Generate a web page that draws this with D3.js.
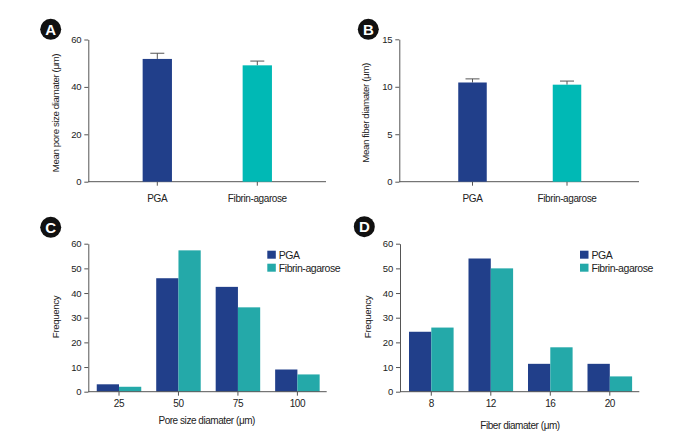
<!DOCTYPE html>
<html><head><meta charset="utf-8">
<script src="https://cdn.jsdelivr.net/npm/d3@7"></script>
<style>
body{margin:0;background:#fff;}
text{font-family:"Liberation Sans",Arial,sans-serif;fill:#222;}
</style></head>
<body><svg id="c" width="690" height="435"></svg>
<script>
// ---- data ----
const groups = ["PGA", "Fibrin-agarose"];
const poreMean = [51.8, 49.1];
const poreErr = [2.4, 1.8];
const fiberMean = [10.45, 10.22];
const fiberErr = [0.38, 0.38];
const poreBins = ["25", "50", "75", "100"];
const porePGA = [3, 46, 42.5, 9];
const poreFib = [2, 57.3, 34.2, 7];
const fiberBins = ["8", "12", "16", "20"];
const fiberPGA = [24.3, 54, 11.3, 11.3];
const fiberFib = [26, 50, 18, 6.2];
const ticksA = [0, 20, 40, 60];
const ticksB = [0, 5, 10, 15];
const ticksCD = [0, 10, 20, 30, 40, 50, 60];

const cBlue = "#213f8a", cTealA = "#00b9b5", cTeal = "#24a9a9";
const svg = d3.select("#c");

function bandFor(domain, c1, cN, w) {
  const n = domain.length;
  const step = (cN - c1) / (n - 1);
  const p = 1 - w / step;
  return d3.scaleBand().domain(domain)
    .range([c1 - step / 2, cN + step / 2]).paddingInner(p).paddingOuter(p / 2);
}

function axes(g, x, y, x0, x1, yVals, padX, xFont) {
  const ya = g.append("g").attr("transform", `translate(${x0},0)`)
    .call(d3.axisLeft(y).tickValues(yVals).tickSize(4).tickSizeOuter(0).tickPadding(3));
  const xa = g.append("g").attr("transform", `translate(0,${y(0)})`)
    .call(d3.axisBottom(x).tickSize(4).tickSizeOuter(0).tickPadding(padX));
  xa.select(".domain").remove();
  g.append("line").attr("x1", x0).attr("x2", x1).attr("y1", y(0)).attr("y2", y(0))
    .attr("stroke", "#555").attr("stroke-width", 1);
  [ya, xa].forEach(a => {
    a.selectAll("line").attr("stroke", "#555");
    a.selectAll(".domain").attr("stroke", "#555");
    a.selectAll("text").style("font-size", "9.5px").style("letter-spacing", "-0.2px").attr("fill", "#222");
  });
  xa.selectAll("text").style("font-size", xFont).style("letter-spacing", "-0.4px");
}

function badge(cx, cy, letter) {
  svg.append("circle").attr("cx", cx).attr("cy", cy).attr("r", 10.5).attr("fill", "#111");
  svg.append("text").attr("x", cx).attr("y", cy + 5.3).attr("text-anchor", "middle")
    .style("font-weight", "bold").style("font-size", "15px").style("fill", "#fff").text(letter);
}

function ylabel(x, y, t) {
  svg.append("text").attr("transform", `translate(${x},${y}) rotate(-90)`)
    .attr("text-anchor", "middle").style("font-size", "9.8px").style("letter-spacing", "-0.45px").text(t);
}

function meanPanel(x0, x1, y0, yTop, max, ticks, means, errs, c1, c2, w, title, tx) {
  const g = svg.append("g");
  const y = d3.scaleLinear().domain([0, max]).range([y0, yTop]);
  const x = bandFor(groups, c1, c2, w);
  axes(g, x, y, x0, x1, ticks, 9, "10px");
  const cols = [cBlue, cTealA];
  groups.forEach((k, i) => {
    const cx = x(k) + x.bandwidth() / 2;
    g.append("line").attr("x1", cx).attr("x2", cx).attr("y1", y(means[i])).attr("y2", y(means[i] + errs[i]))
      .attr("stroke", "#555");
    g.append("line").attr("x1", cx - 7).attr("x2", cx + 7).attr("y1", y(means[i] + errs[i])).attr("y2", y(means[i] + errs[i]))
      .attr("stroke", "#555");
    g.append("rect").attr("x", x(k)).attr("width", x.bandwidth())
      .attr("y", y(means[i])).attr("height", y(0) - y(means[i])).attr("fill", cols[i]);
  });
  ylabel(tx, 113, title);
}

function histPanel(x0, x1, bins, a, b, c1, cN, w, xtitle, xtx, xty, legX) {
  const g = svg.append("g");
  const y = d3.scaleLinear().domain([0, 60]).range([391.7, 243.7]);
  const x = bandFor(bins, c1, cN, w);
  const xs = d3.scaleBand().domain(["PGA", "Fibrin-agarose"]).range([0, x.bandwidth()]);
  const col = d3.scaleOrdinal().domain(["PGA", "Fibrin-agarose"]).range([cBlue, cTeal]);
  bins.forEach((k, i) => {
    [["PGA", a[i]], ["Fibrin-agarose", b[i]]].forEach(([s, v]) => {
      g.append("rect").attr("x", x(k) + xs(s)).attr("width", xs.bandwidth())
        .attr("y", y(v)).attr("height", y(0) - y(v)).attr("fill", col(s));
    });
  });
  axes(g, x, y, x0, x1, ticksCD, 4, "10px");
  svg.append("text").attr("x", xtx).attr("y", xty).attr("text-anchor", "middle")
    .style("font-size", "10px").style("letter-spacing", "-0.45px").text(xtitle);
  ylabel(x0 - 29, 317, "Frequency");
  ["PGA", "Fibrin-agarose"].forEach((s, i) => {
    svg.append("rect").attr("x", legX).attr("y", 250.7 + i * 13).attr("width", 8.5).attr("height", 8)
      .attr("fill", col(s));
    svg.append("text").attr("x", legX + 11.5).attr("y", 258.5 + i * 13)
      .style("font-size", "10.5px").style("letter-spacing", "-0.45px").text(s);
  });
}

meanPanel(88.3, 326, 181.7, 39.5, 60, ticksA, poreMean, poreErr, 157.3, 257.3, 29.3,
  "Mean pore size diamater (\u03bcm)", 58.5);
meanPanel(399.3, 639, 181.7, 39.3, 15, ticksB, fiberMean, fiberErr, 472.5, 567, 28.5,
  "Mean fiber diamater (\u03bcm)", 368.5);
histPanel(88.3, 326.7, poreBins, porePGA, poreFib, 119, 297.4, 44.5,
  "Pore size diamater (\u03bcm)", 206.7, 423.5, 267.3);
histPanel(400, 639.3, fiberBins, fiberPGA, fiberFib, 431.3, 609.8, 44.6,
  "Fiber diamater (\u03bcm)", 520, 429, 580);

badge(50.7, 29.3, "A");
badge(368.3, 29.3, "B");
badge(50.7, 227.3, "C");
badge(364.3, 226.7, "D");
</script></body></html>
